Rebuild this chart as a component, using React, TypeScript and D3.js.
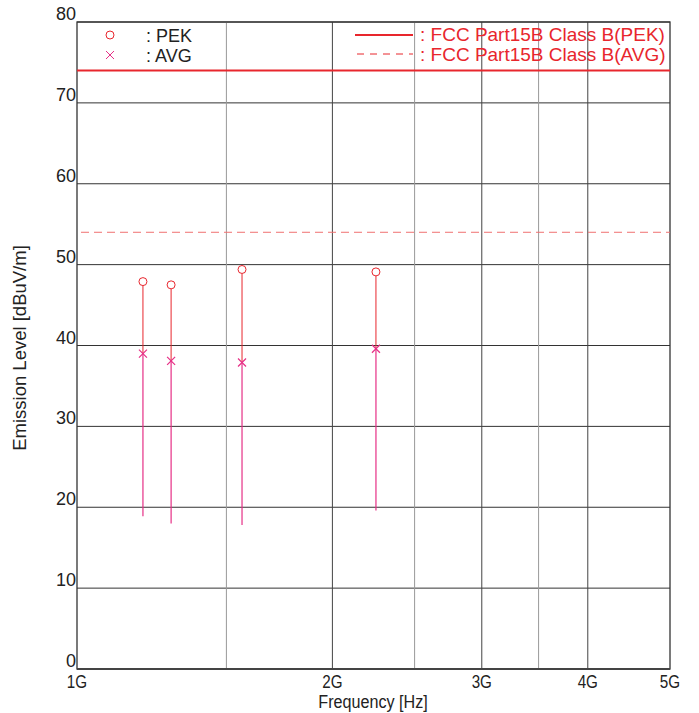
import * as d3 from 'd3';

/* ═══ data ═══ */
const freqsGHz = [1.196, 1.291, 1.565, 2.251];
const peakLevels = [47.9, 47.5, 49.4, 49.1];
const avgLevels = [39.0, 38.1, 37.9, 39.6];
const floorLevels = [18.9, 18.0, 17.8, 19.6];
const peakLimit = 74;
const avgLimit = 54;
const yTicks = [0, 10, 20, 30, 40, 50, 60, 70, 80];
const xMajor = [2, 3, 4];
const xMinor = [1.5, 2.5, 3.5];
const xLabels = [
  { v: 1, t: '1G' },
  { v: 2, t: '2G' },
  { v: 3, t: '3G' },
  { v: 4, t: '4G' },
  { v: 5, t: '5G' },
];

const W = 699, H = 713;
const M = { left: 77, right: 670, top: 22, bottom: 669 };
const RED = '#e8262d';
const MAG = '#e62f86';
const SANS = '"Liberation Sans", Arial, sans-serif';

export default function App() {
  const x = d3.scaleLog().domain([1, 5]).range([M.left, M.right]);
  const y = d3.scaleLinear().domain([0, 80]).range([M.bottom, M.top]);

  return (
    <svg width={W} height={H} style={{ position: 'absolute', left: 0, top: 0, background: '#fff' }}>
      {/* grid */}
      {yTicks.map(t => (
        <line key={'h' + t} x1={M.left} x2={M.right} y1={y(t)} y2={y(t)} stroke="#333" strokeWidth={1} />
      ))}
      {xMinor.map(v => (
        <line key={'mn' + v} x1={x(v)} x2={x(v)} y1={M.top} y2={M.bottom} stroke="#999" strokeWidth={1} />
      ))}
      {xMajor.map(v => (
        <line key={'mj' + v} x1={x(v)} x2={x(v)} y1={M.top} y2={M.bottom} stroke="#444" strokeWidth={1} />
      ))}
      {/* frame */}
      <rect x={M.left} y={M.top} width={M.right - M.left} height={M.bottom - M.top}
        fill="none" stroke="#333" strokeWidth={1.3} />
      <line x1={M.left} x2={M.right} y1={M.bottom} y2={M.bottom} stroke="#444" strokeWidth={2} />

      {/* limits */}
      <line x1={M.left} x2={M.right} y1={y(peakLimit)} y2={y(peakLimit)} stroke={RED} strokeWidth={2} />
      <line x1={M.left + 4} x2={M.right} y1={y(avgLimit)} y2={y(avgLimit)} stroke="#f07070"
        strokeWidth={1} strokeDasharray="8,5" />

      {/* stems */}
      {freqsGHz.map((f, i) => (
        <g key={'s' + i}>
          <line x1={x(f)} x2={x(f)} y1={y(peakLevels[i]) + 4} y2={y(avgLevels[i])} stroke={RED} strokeWidth={1} />
          <line x1={x(f)} x2={x(f)} y1={y(avgLevels[i])} y2={y(floorLevels[i])} stroke={MAG} strokeWidth={1.2} />
          <circle cx={x(f)} cy={y(peakLevels[i])} r={4} fill="#fff" stroke={RED} strokeWidth={1} />
          <path d={`M${x(f) - 4},${y(avgLevels[i]) - 4}L${x(f) + 4},${y(avgLevels[i]) + 4}M${x(f) - 4},${y(avgLevels[i]) + 4}L${x(f) + 4},${y(avgLevels[i]) - 4}`}
            stroke={MAG} strokeWidth={1.2} />
        </g>
      ))}

      {/* y tick labels */}
      {yTicks.map(t => (
        <text key={'yl' + t} x={M.left - 1} y={y(t) - 2} textAnchor="end" fontFamily={SANS}
          fontSize={18} fill="#222">{t}</text>
      ))}
      {/* x tick labels */}
      {xLabels.map(d => (
        <text key={'xl' + d.t} transform={`translate(${x(d.v)},${M.bottom + 19}) scale(0.8,1)`}
          textAnchor="middle" fontFamily={SANS} fontSize={19} fill="#222">{d.t}</text>
      ))}
      <text transform={`translate(373,${H - 5}) scale(0.85,1)`} textAnchor="middle"
        fontFamily={SANS} fontSize={19} fill="#222">Frequency [Hz]</text>
      <text transform="translate(26,348) rotate(-90)" textAnchor="middle"
        fontFamily={SANS} fontSize={18.5} fill="#222">Emission Level [dBuV/m]</text>

      {/* legend left */}
      <circle cx={110} cy={35} r={4} fill="#fff" stroke={RED} strokeWidth={1} />
      <text x={146} y={42} fontFamily={SANS} fontSize={18} fill="#222">: PEK</text>
      <path d="M106,51L114,59M106,59L114,51" stroke={MAG} strokeWidth={1} />
      <text x={146} y={62} fontFamily={SANS} fontSize={18} fill="#222">: AVG</text>

      {/* legend right */}
      <line x1={355} x2={413} y1={35} y2={35} stroke={RED} strokeWidth={2} />
      <text x={420} y={41} fontFamily={SANS} fontSize={19} fill={RED}>: FCC Part15B Class B(PEK)</text>
      <line x1={357} x2={413} y1={54} y2={54} stroke={RED} strokeWidth={1} strokeDasharray="7,6" />
      <text x={420} y={61} fontFamily={SANS} fontSize={19} fill={RED}>: FCC Part15B Class B(AVG)</text>
    </svg>
  );
}
